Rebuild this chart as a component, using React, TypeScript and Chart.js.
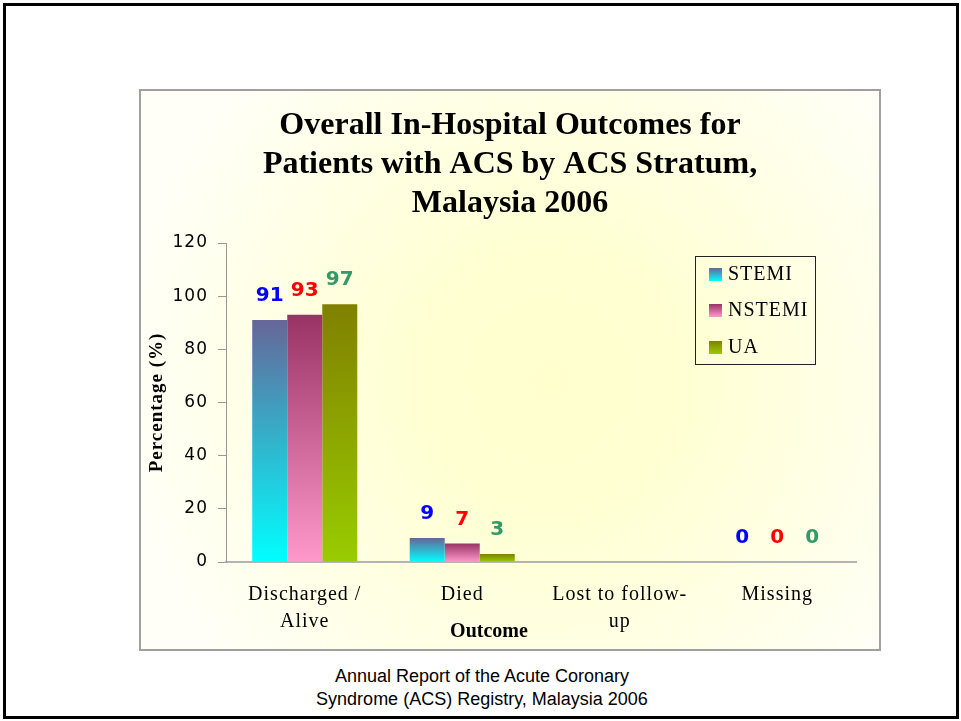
import React, { useEffect, useRef } from "react";
import { Chart, registerables } from "chart.js";

Chart.register(...registerables);

// ---- data ----
const categories: string[][] = [["Discharged /", "Alive"], ["Died"], ["Lost to follow-", "up"], ["Missing"]];
const seriesNames = ["STEMI", "NSTEMI", "UA"];
const stemiValues: (number | null)[] = [91, 9, null, 0];
const nstemiValues: (number | null)[] = [93, 7, null, 0];
const uaValues: (number | null)[] = [97, 3, null, 0];
const yMin = 0;
const yMax = 120;
const yStep = 20;
const titleLines = ["Overall In-Hospital Outcomes for", "Patients with ACS by ACS Stratum,", "Malaysia 2006"];
const yAxisTitle = "Percentage (%)";
const xAxisTitle = "Outcome";
const footerLines = ["Annual Report of the Acute Coronary", "Syndrome (ACS) Registry, Malaysia 2006"];

// ---- styles ----
const seriesTop = ["#666699", "#993366", "#808000"];
const seriesBottom = ["#00FFFF", "#FF99CC", "#99CC00"];
const labelColors = ["#0000FF", "#FF0000", "#339966"];

const W = 742;
const H = 562;

function barFill(di: number) {
  return (c: any) => {
    const chart = c.chart;
    if (c.type !== "data" || !chart.scales || !chart.scales.y || c.raw == null) return seriesTop[di];
    const y = chart.scales.y;
    const yTop = y.getPixelForValue(c.raw);
    const yBot = y.getPixelForValue(0);
    if (!isFinite(yTop) || !isFinite(yBot) || Math.abs(yBot - yTop) < 0.5) return seriesTop[di];
    const g = chart.ctx.createLinearGradient(0, yTop, 0, yBot);
    g.addColorStop(0, seriesTop[di]);
    g.addColorStop(1, seriesBottom[di]);
    return g;
  };
}

const decor = {
  id: "decor",
  beforeDraw(chart: any) {
    const { ctx } = chart;
    ctx.save();
    const cx = W / 2 + 40;
    const cy = H / 2 + 10;
    const g = ctx.createRadialGradient(cx, cy, 0, cx, cy, 430);
    g.addColorStop(0, "rgb(255,255,206)");
    g.addColorStop(0.3, "rgb(255,255,210)");
    g.addColorStop(1, "rgb(255,255,247)");
    ctx.fillStyle = g;
    ctx.fillRect(0, 0, W, H);
    ctx.strokeStyle = "#A0A0A0";
    ctx.lineWidth = 2;
    ctx.strokeRect(1, 1, W - 2, H - 2);
    // title
    ctx.fillStyle = "#000";
    ctx.font = 'bold 32px "Liberation Serif"';
    ctx.textAlign = "center";
    ctx.textBaseline = "middle";
    const ys = [37, 76, 115];
    titleLines.forEach((t, i) => ctx.fillText(t, W / 2, ys[i]));
    ctx.restore();
    ctx.letterSpacing = "1px";
  },
  afterDatasetsDraw(chart: any) {
    const { ctx } = chart;
    ctx.save();
    ctx.letterSpacing = "0px";
    ctx.font = 'bold 20px "DejaVu Sans"';
    ctx.textAlign = "center";
    ctx.textBaseline = "middle";
    chart.data.datasets.forEach((ds: any, di: number) => {
      const meta = chart.getDatasetMeta(di);
      meta.data.forEach((el: any, i: number) => {
        const v = ds.data[i];
        if (v == null) return;
        ctx.fillStyle = labelColors[di];
        ctx.fillText(String(v), el.x, el.y - 24);
      });
    });
    ctx.restore();
  },
  afterDraw(chart: any) {
    const { ctx } = chart;
    ctx.save();
    // legend
    const lx = 556, ly = 167, lw = 120, lh = 108;
    ctx.strokeStyle = "#222";
    ctx.lineWidth = 1;
    ctx.strokeRect(lx + 0.5, ly + 0.5, lw, lh);
    const itemY = [185, 221, 258];
    ctx.font = '20px "Liberation Serif"';
    ctx.letterSpacing = "1px";
    ctx.textAlign = "left";
    ctx.textBaseline = "middle";
    seriesNames.forEach((n, i) => {
      const y = itemY[i];
      const g = ctx.createLinearGradient(0, y - 6, 0, y + 7);
      g.addColorStop(0, seriesTop[i]);
      g.addColorStop(1, seriesBottom[i]);
      ctx.fillStyle = g;
      ctx.fillRect(570, y - 6, 13, 13);
      ctx.fillStyle = "#000";
      ctx.fillText(n, 589, y + 1);
    });
    // x axis title
    ctx.letterSpacing = "0px";
    ctx.font = 'bold 20px "Liberation Serif"';
    ctx.textAlign = "center";
    ctx.fillStyle = "#000";
    ctx.fillText(xAxisTitle, 350, 543);
    ctx.restore();
  },
};

export default function App() {
  const ref = useRef<HTMLCanvasElement | null>(null);
  useEffect(() => {
    if (!ref.current) return;
    const chart = new Chart(ref.current, {
      type: "bar",
      data: {
        labels: categories as any,
        datasets: [stemiValues, nstemiValues, uaValues].map((d, di) => ({
          label: seriesNames[di],
          data: d,
          backgroundColor: barFill(di),
          borderWidth: 0,
          categoryPercentage: 0.667,
          barPercentage: 1,
        })) as any,
      },
      plugins: [decor],
      options: {
        animation: false,
        responsive: false,
        devicePixelRatio: 1,
        layout: { padding: { top: 154, right: 25, left: 0, bottom: 0 } },
        plugins: { legend: { display: false }, title: { display: false }, tooltip: { enabled: false } },
        scales: {
          x: {
            grid: { display: false },
            border: { display: true, color: "#B4B4B4", width: 2 },
            ticks: {
              color: "#000",
              font: { family: '"Liberation Serif"', size: 20, lineHeight: 1.35 },
              padding: 11,
              maxRotation: 0,
              autoSkip: false,
            },
            afterFit: (s: any) => {
              s.height = 89;
            },
          },
          y: {
            min: yMin,
            max: yMax,
            ticks: {
              stepSize: yStep,
              color: "#000",
              font: { family: '"DejaVu Sans"', size: 17 },
              padding: 10,
            },
            grid: { drawOnChartArea: false, drawTicks: true, tickLength: 8, color: "#999" },
            border: { display: true, color: "#999", width: 1 },
            title: {
              display: true,
              text: yAxisTitle,
              color: "#000",
              font: { family: '"Liberation Serif"', size: 19, weight: "bold", lineHeight: 1.2 },
              padding: { top: 7, bottom: 0 },
            },
            afterFit: (s: any) => {
              s.width = 87;
            },
          },
        },
      },
    } as any);
    return () => chart.destroy();
  }, []);

  return (
    <div style={{ position: "fixed", left: 0, top: 0, width: 961, height: 721, background: "#fff" }}>
      <div
        style={{
          position: "absolute",
          left: 3,
          top: 3,
          width: 956,
          height: 716,
          border: "3px solid #000",
          boxSizing: "border-box",
        }}
      />
      <div style={{ position: "absolute", left: 139, top: 89, width: W, height: H }}>
        <canvas ref={ref} width={W} height={H} style={{ display: "block", width: W, height: H }} />
      </div>
      <div
        style={{
          position: "absolute",
          left: 232,
          top: 665,
          width: 500,
          textAlign: "center",
          fontFamily: '"Liberation Sans", Arial, sans-serif',
          fontSize: 18,
          lineHeight: "23px",
          color: "#000",
        }}
      >
        {footerLines.map((l, i) => (
          <div key={i}>{l}</div>
        ))}
      </div>
    </div>
  );
}
